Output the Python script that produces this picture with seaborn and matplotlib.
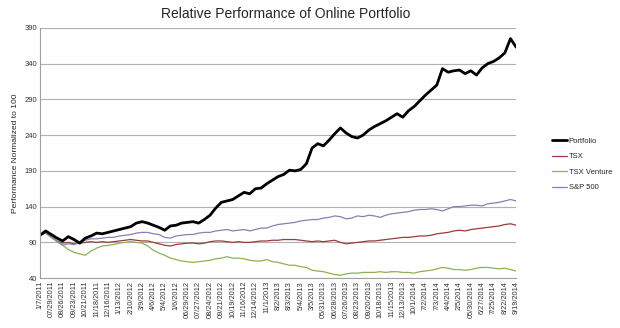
import matplotlib
matplotlib.use("Agg")
import matplotlib.pyplot as plt
import seaborn as sns
import pandas as pd
import numpy as np

weeks = list(range(0, 169, 2))

portfolio = [100, 106, 101, 96, 92, 98, 94, 89, 96, 99, 103, 102, 104, 106, 108, 110, 112, 117, 119, 117,
             114, 111, 107, 113, 114, 117, 118, 119, 117, 122, 128, 138, 146, 148, 150, 155, 160, 158, 165, 166,
             172, 177, 182, 185, 191, 190, 192, 200, 222, 228, 225, 233, 242, 250, 243, 238, 236, 240, 247, 252,
             256, 260, 265, 270, 265, 274, 280, 288, 296, 303, 310, 333, 328, 330, 331, 326, 330, 324, 334, 340,
             343, 348, 355, 375, 363]
tsx = [100, 103, 97, 92, 89, 90, 88, 89, 90, 91, 90, 91, 90, 91, 92, 93, 94, 93, 92, 92,
       90, 88, 86, 85, 87, 88, 89, 89, 88, 89, 91, 92, 92, 91, 90, 91, 90, 90, 91, 92,
       92, 93, 93, 94, 94, 94, 93, 92, 91, 92, 91, 92, 93, 90, 88, 89, 90, 91, 92, 92,
       93, 94, 95, 96, 97, 97, 98, 99, 99, 100, 102, 103, 104, 106, 107, 106, 108, 109, 110, 111,
       112, 113, 115, 116, 114]
venture = [100, 104, 97, 91, 86, 80, 76, 74, 72, 78, 82, 85, 86, 87, 89, 90, 91, 90, 89, 85,
           79, 75, 72, 68, 66, 64, 63, 62, 63, 64, 65, 67, 68, 70, 68, 68, 67, 65, 64, 64,
           66, 63, 62, 60, 58, 58, 56, 55, 51, 50, 49, 47, 45, 44, 46, 47, 47, 48, 48, 48,
           49, 48, 49, 49, 48, 48, 47, 49, 50, 51, 53, 55, 54, 52, 52, 51, 52, 54, 55, 55,
           54, 53, 54, 52, 50]
sp500 = [100, 104, 98, 92, 86, 88, 87, 90, 93, 95, 95, 96, 97, 97, 99, 100, 101, 103, 104, 104,
         102, 101, 97, 96, 99, 100, 101, 101, 103, 104, 104, 106, 107, 108, 106, 107, 108, 106, 108, 110,
         110, 113, 115, 116, 117, 118, 120, 121, 122, 122, 124, 125, 127, 126, 123, 124, 127, 126, 128, 127,
         125, 128, 130, 131, 132, 133, 135, 136, 136, 137, 136, 134, 137, 140, 140, 141, 142, 142, 141, 144,
         145, 146, 148, 150, 148]

series_names = ["Portfolio", "TSX", "TSX Venture", "S&P 500"]
tick_labels = ["1/7/2011", "07/29/2011", "08/26/2011", "09/23/2011", "10/21/2011", "11/18/2011",
               "12/16/2011", "1/13/2012", "2/10/2012", "3/9/2012", "4/6/2012", "5/4/2012", "1/6/2012",
               "06/29/2012", "07/27/2012", "08/24/2012", "09/21/2012", "10/19/2012", "11/16/2012",
               "12/14/2012", "11/1/2013", "8/2/2013", "8/3/2013", "5/4/2013", "3/5/2013", "05/31/2013",
               "06/28/2013", "07/26/2013", "08/23/2013", "09/20/2013", "10/18/2013", "11/15/2013",
               "12/13/2013", "10/1/2014", "7/2/2014", "7/3/2014", "4/4/2014", "2/5/2014", "05/30/2014",
               "6/27/2014", "7/25/2014", "8/22/2014", "9/19/2014"]
y_ticks = [40, 90, 140, 190, 240, 290, 340, 390]

df = pd.DataFrame({
    "week": weeks * 4,
    "value": portfolio + tsx + venture + sp500,
    "series": sum([[n] * len(weeks) for n in series_names], []),
})

sns.set_theme(style="white")
plt.rcParams["font.family"] = ["Liberation Sans", "DejaVu Sans"]

colors = {"Portfolio": "#000000", "TSX": "#9B3B3A", "TSX Venture": "#8FB052", "S&P 500": "#8E7DB3"}
widths = {"Portfolio": 2.0, "TSX": 0.9, "TSX Venture": 0.9, "S&P 500": 0.9}

fig = plt.figure(figsize=(6.2, 3.28), dpi=100)
ax = fig.add_axes([0.0645, 0.152, 0.768, 0.763])

# draw thin lines first, portfolio on top
for name in ["TSX", "TSX Venture", "S&P 500", "Portfolio"]:
    sub = df[df["series"] == name]
    sns.lineplot(data=sub, x="week", y="value", ax=ax, color=colors[name],
                 linewidth=widths[name], label=name, legend=False)

ax.set_xlim(0, 168)
ax.set_ylim(40, 390)
ax.set_yticks(y_ticks)
ax.set_yticklabels([str(t) for t in y_ticks], fontsize=5.5, color="#333333")
ax.set_xticks(list(range(0, 169, 4)))
ax.set_xticklabels(tick_labels, rotation=90, fontsize=5.3, color="#333333")
ax.tick_params(axis="both", length=0, pad=2)
ax.yaxis.grid(True, color="#B0B0B0", linewidth=0.8)
ax.xaxis.grid(False)
for s in ["top", "right"]:
    ax.spines[s].set_visible(False)
for s in ["left", "bottom"]:
    ax.spines[s].set_color("#A0A0A0")
    ax.spines[s].set_linewidth(0.8)
ax.set_xlabel("")
ax.set_ylabel("Performance Normalized to 100", fontsize=6, color="#222222", labelpad=4)

fig.suptitle("Relative Performance of Online Portfolio", fontsize=10, x=0.46, y=0.98)

handles = [plt.Line2D([], [], color=colors[n], linewidth=widths[n]) for n in series_names]
leg = fig.legend(handles, series_names, loc="upper left", bbox_to_anchor=(0.89, 0.58),
                 frameon=False, fontsize=5.5, handlelength=2.0, handletextpad=0.2,
                 labelspacing=1.05, borderaxespad=0, borderpad=0)

fig.savefig("out.png", dpi=100)
